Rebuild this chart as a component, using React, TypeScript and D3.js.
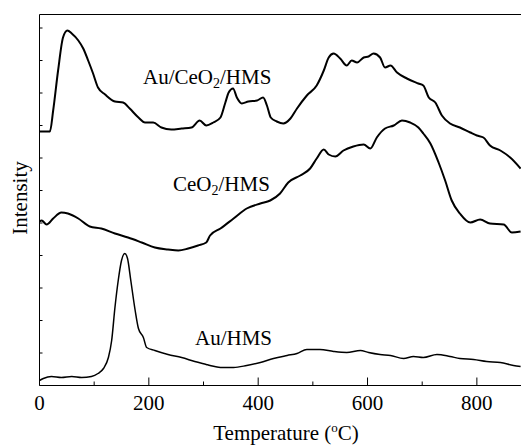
import React from "react";
import * as d3 from "d3";

// Temperature (°C) and intensity (a.u.)
const auCeTemp = [0, 19, 25, 34, 43, 51, 59, 71, 80, 89, 98, 107, 120, 138, 153, 165, 181, 193, 208, 223, 241, 260, 278, 293, 305, 318, 331, 340, 346, 354, 361, 370, 382, 398, 409, 416, 423, 434, 446, 459, 471, 489, 507, 520, 529, 538, 550, 562, 571, 581, 593, 602, 611, 623, 632, 642, 654, 672, 693, 702, 712, 724, 736, 751, 769, 788, 800, 812, 824, 843, 861, 880];
const auCeVal = [254, 254, 275, 315, 348, 355, 352, 345, 337, 325, 312, 298, 291, 284, 283, 277, 268, 263, 263, 258, 256, 257, 258, 265, 260, 263, 268, 283, 293, 297, 288, 282, 284, 285, 288, 280, 268, 264, 262, 267, 277, 290, 300, 315, 328, 332, 327, 320, 325, 323, 328, 329, 332, 328, 318, 320, 313, 307, 302, 300, 288, 283, 270, 262, 258, 253, 250, 248, 240, 235, 228, 217];

const ceTemp = [0, 4, 13, 25, 40, 52, 71, 92, 113, 138, 162, 187, 211, 235, 254, 272, 290, 305, 312, 331, 355, 379, 404, 422, 440, 455, 477, 495, 507, 520, 529, 541, 556, 574, 593, 605, 617, 632, 648, 663, 678, 693, 702, 715, 730, 742, 754, 769, 788, 806, 824, 849, 864, 880];
const ceVal = [164, 165, 161, 167, 173, 172, 167, 159, 157, 152, 148, 143, 138, 136, 135, 137, 140, 143, 150, 157, 167, 177, 182, 185, 192, 203, 210, 217, 227, 236, 231, 229, 235, 239, 241, 237, 248, 257, 260, 265, 263, 258, 252, 242, 223, 205, 185, 172, 163, 166, 162, 161, 153, 154];

const auTemp = [0, 7, 22, 40, 59, 77, 95, 107, 117, 126, 132, 138, 144, 150, 156, 161, 167, 175, 181, 190, 196, 211, 235, 260, 284, 305, 312, 331, 355, 379, 404, 428, 453, 471, 489, 513, 538, 562, 587, 602, 623, 642, 666, 684, 702, 727, 751, 769, 794, 818, 843, 867, 880];
const auVal = [5, 7, 9, 8, 9, 8, 9, 12, 17, 28, 45, 78, 105, 125, 132, 127, 105, 75, 57, 48, 38, 35, 31, 28, 24, 21, 20, 18, 18, 20, 23, 27, 30, 32, 36, 36, 34, 33, 35, 33, 31, 30, 27, 29, 28, 31, 29, 27, 26, 24, 23, 20, 19];

const xTicks = [0, 200, 400, 600, 800];
const xMinorTicks = [100, 300, 500, 700];
const yTicks = [32.5, 65, 97.5, 130, 162.5, 195, 227.5, 260, 292.5, 325, 357.5];

const W = 521;
const H = 445;
const left = 39.5;
const top = 14.5;
const bottom = 385.5;
const FONT = "'Times New Roman', 'Liberation Serif', serif";

export default function App() {
  const x = d3.scaleLinear().domain([0, 880]).range([left, 520.6]);
  const y = d3.scaleLinear().domain([0, 371]).range([bottom, top]);
  const line = d3
    .line<[number, number]>()
    .x((d) => x(d[0]))
    .y((d) => y(d[1]))
    .curve(d3.curveMonotoneX);
  const zip = (a: number[], b: number[]) => a.map((t, i) => [t, b[i]] as [number, number]);

  return (
    <svg
      width={W}
      height={H}
      style={{ position: "absolute", left: 0, top: 0, background: "#fff" }}
      fontFamily={FONT}
    >
      <rect x={0} y={0} width={W} height={H} fill="#fff" />
      {/* frame */}
      <path
        d={`M${W + 2},${top}H${left}V${bottom}H${W + 2}`}
        fill="none"
        stroke="#000"
        strokeWidth={1}
      />
      {/* x ticks */}
      {xTicks.map((t) => (
        <g key={"x" + t}>
          <line x1={x(t)} x2={x(t)} y1={bottom} y2={bottom - 8} stroke="#000" />
          <text x={x(t)} y={410} textAnchor="middle" fontSize={21}>
            {t}
          </text>
        </g>
      ))}
      {xMinorTicks.map((t) => (
        <line key={"xm" + t} x1={x(t)} x2={x(t)} y1={bottom} y2={bottom - 4} stroke="#000" />
      ))}
      {yTicks.map((t) => (
        <line key={"y" + t} x1={left} x2={left + 3} y1={y(t)} y2={y(t)} stroke="#000" />
      ))}
      {/* curves */}
      <path d={line(zip(auCeTemp, auCeVal)) || ""} fill="none" stroke="#000" strokeWidth={2} />
      <path d={line(zip(ceTemp, ceVal)) || ""} fill="none" stroke="#000" strokeWidth={2} />
      <path d={line(zip(auTemp, auVal)) || ""} fill="none" stroke="#000" strokeWidth={1.5} />
      {/* labels */}
      <text x={143} y={83.5} fontSize={21}>
        Au/CeO<tspan fontSize={14} dy={4}>2</tspan>
        <tspan dy={-4}>/HMS</tspan>
      </text>
      <text x={173} y={191} fontSize={21}>
        CeO<tspan fontSize={14} dy={4}>2</tspan>
        <tspan dy={-4}>/HMS</tspan>
      </text>
      <text x={195} y={345} fontSize={21}>
        Au/HMS
      </text>
      {/* axis titles */}
      <text x={286} y={439.5} textAnchor="middle" fontSize={21}>
        Temperature (<tspan fontSize={13} dy={-8}>o</tspan>
        <tspan dy={8}>C)</tspan>
      </text>
      <text
        transform="translate(27,198) rotate(-90)"
        textAnchor="middle"
        fontSize={21}
      >
        Intensity
      </text>
    </svg>
  );
}
